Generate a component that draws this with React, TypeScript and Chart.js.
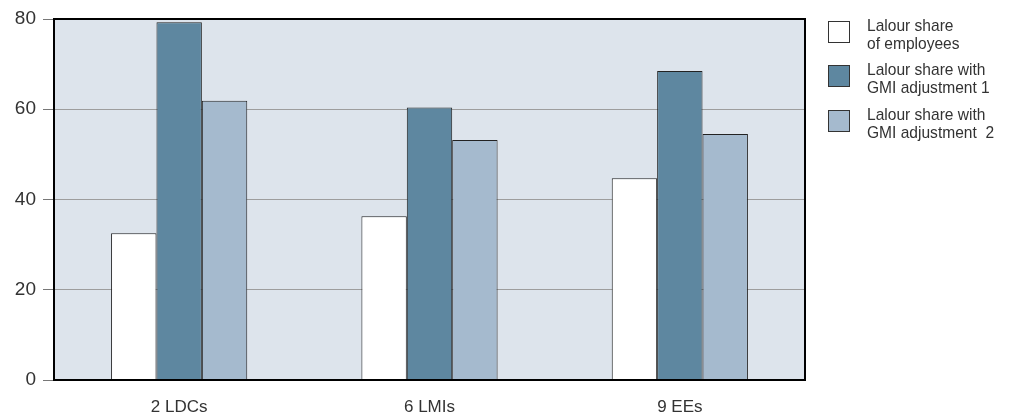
import React, { useEffect, useRef } from "react";
import { Chart, registerables } from "chart.js";

Chart.register(...registerables);

const categories = ["2 LDCs", "6 LMIs", "9 EEs"];
const seriesNames = [
  ["Lalour share", "of employees"],
  ["Lalour share with", "GMI adjustment 1"],
  ["Lalour share with", "GMI adjustment  2"],
];
const employeesShare = [32.5, 36.3, 44.7];
const gmiAdjustment1 = [79.3, 60.4, 68.5];
const gmiAdjustment2 = [61.9, 53.2, 54.5];
const yTicks = [0, 20, 40, 60, 80];

const colors = ["#ffffff", "#5e87a0", "#a5bace"];
const FONT = "'Liberation Sans', Arial, sans-serif";

const framePlugin = {
  id: "frame",
  beforeDraw(chart: any) {
    const { ctx, chartArea: a } = chart;
    ctx.save();
    ctx.fillStyle = "#dde4ec";
    ctx.fillRect(a.left, a.top, a.right - a.left, a.bottom - a.top);
    ctx.restore();
  },
  afterDatasetsDraw(chart: any) {
    const { ctx, chartArea: a } = chart;
    ctx.save();
    ctx.strokeStyle = "#000";
    ctx.lineWidth = 2;
    ctx.strokeRect(a.left, a.top, a.right - a.left, a.bottom - a.top);
    ctx.restore();
  },
};

export default function App() {
  const ref = useRef<HTMLCanvasElement>(null);
  useEffect(() => {
    const chart = new Chart(ref.current!, {
      type: "bar",
      data: {
        labels: categories,
        datasets: [employeesShare, gmiAdjustment1, gmiAdjustment2].map((d, i) => ({
          label: seriesNames[i].join(" "),
          data: d,
          backgroundColor: colors[i],
          borderColor: "#222",
          borderWidth: 1,
          barPercentage: 1,
          categoryPercentage: 0.544,
        })),
      },
      options: {
        animation: false,
        responsive: false,
        maintainAspectRatio: false,
        layout: { padding: { top: 19, right: 204, left: 0, bottom: 0 } },
        plugins: { legend: { display: false }, tooltip: { enabled: false } },
        scales: {
          x: {
            grid: { display: false },
            border: { display: false },
            ticks: { color: "#333", font: { family: FONT, size: 17 }, padding: 9 },
            afterFit: (s: any) => {
              s.height = 34;
            },
          },
          y: {
            min: 0,
            max: 80,
            afterBuildTicks: (s: any) => {
              s.ticks = yTicks.map((v) => ({ value: v }));
            },
            grid: { color: "#9d9d9d", tickColor: "#777", tickLength: 11, lineWidth: 1 },
            border: { display: false },
            ticks: { color: "#333", font: { family: FONT, size: 19 }, padding: 7 },
            afterFit: (s: any) => {
              s.width = 54;
            },
          },
        },
      },
      plugins: [framePlugin],
    });
    return () => chart.destroy();
  }, []);

  const legendTops = [17, 61, 106];
  return (
    <div style={{ position: "absolute", left: 0, top: 0, width: 1009, height: 414, background: "#fff" }}>
      <canvas ref={ref} width={1009} height={414} style={{ display: "block" }} />
      {seriesNames.map((lines, i) => (
        <div key={i}>
          <div
            style={{
              position: "absolute",
              left: 828,
              top: legendTops[i] + 4,
              width: 20,
              height: 20,
              background: colors[i],
              border: "1px solid #333",
            }}
          />
          <div
            style={{
              position: "absolute",
              left: 867,
              top: legendTops[i],
              fontFamily: FONT,
              fontSize: 17,
              lineHeight: "18px",
              color: "#333",
              whiteSpace: "pre",
              transform: "scaleX(0.915)",
              transformOrigin: "left top",
            }}
          >
            {lines[0]}
            <br />
            {lines[1]}
          </div>
        </div>
      ))}
    </div>
  );
}
